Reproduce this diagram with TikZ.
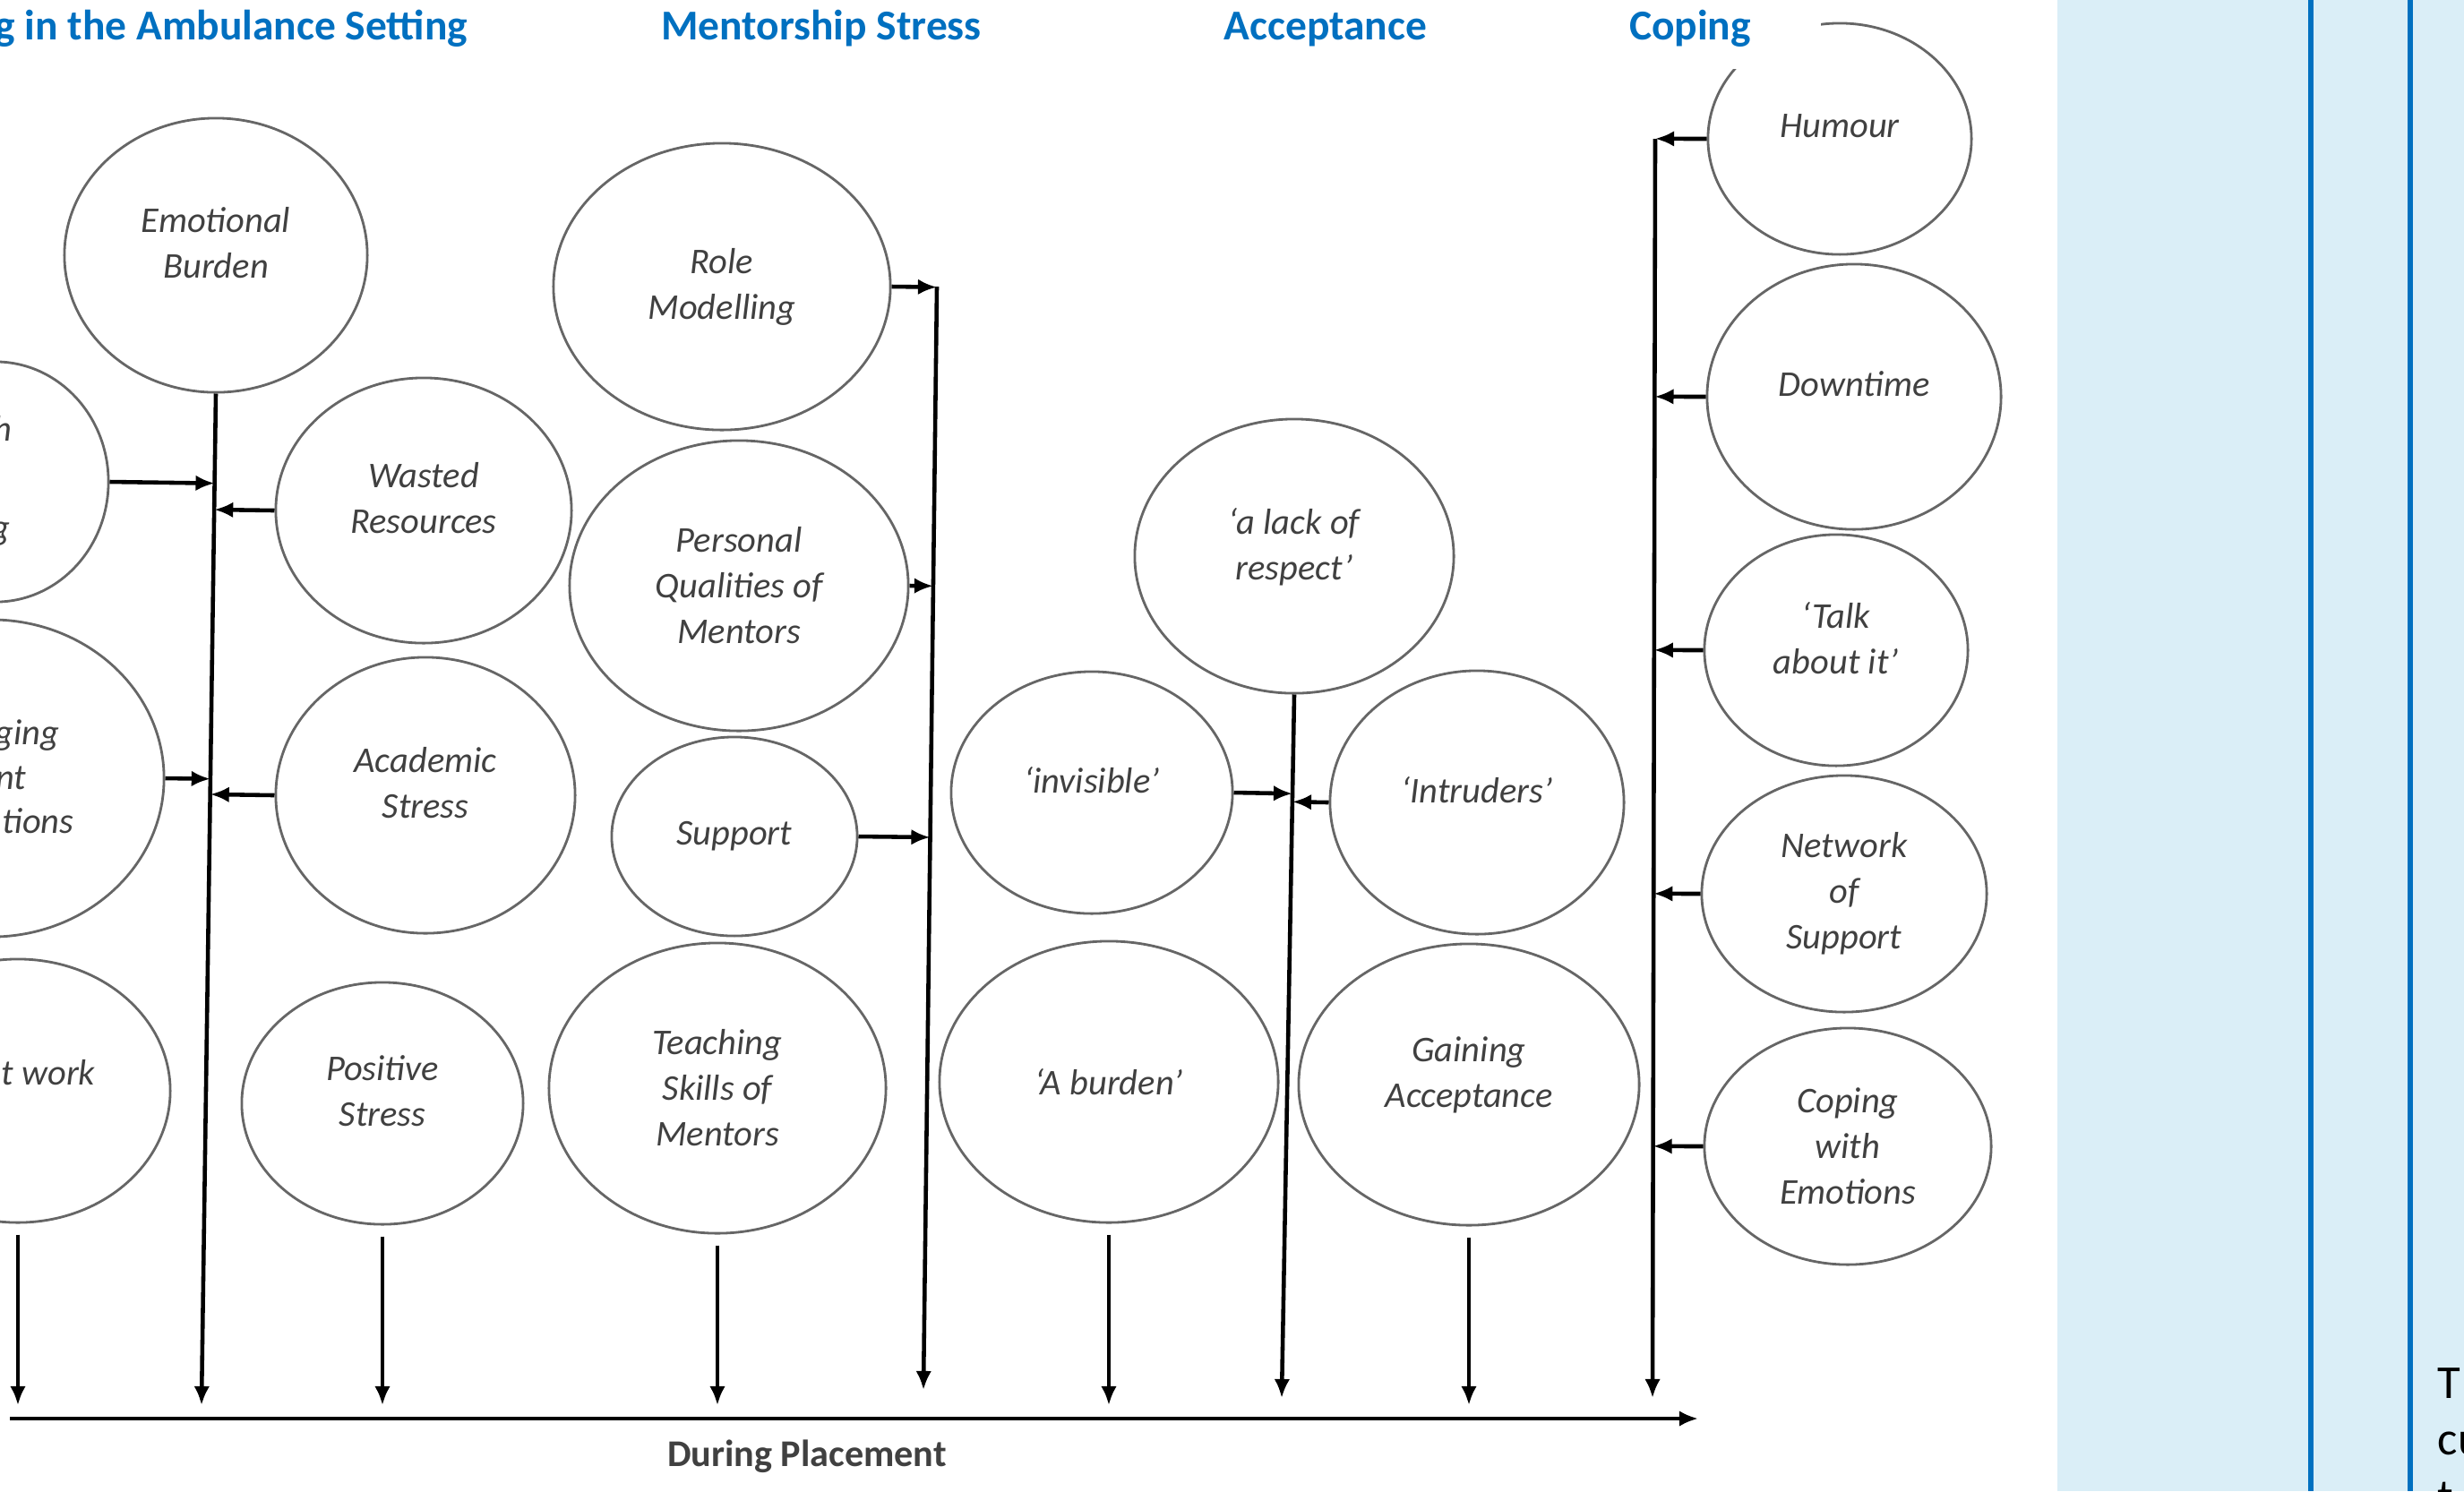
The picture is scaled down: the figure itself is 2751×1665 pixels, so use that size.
\documentclass[tikz,border=0pt]{standalone}
\usepackage{fontspec}
\setmainfont{Carlito}
\usepackage{tikz}
\usetikzlibrary{arrows.meta}
\usetikzlibrary{shapes.geometric,calc}

\definecolor{titleblue}{HTML}{0070C0}
\definecolor{panelblue}{HTML}{DAEEF7}

\tikzset{
  theme/.style={ellipse, draw=black!60, line width=0.8pt, inner sep=0pt, align=center,
    font=\fontsize{11.5}{14.5}\selectfont\itshape, text=black!75},
  lifted/.style={text depth=8pt},
  frag/.style={font=\fontsize{11.5}{14.5}\selectfont\itshape, text=black!75, inner sep=0pt, anchor=mid east},
  heading/.style={font=\fontsize{13.5}{16}\selectfont\bfseries, text=titleblue, anchor=base, fill=white, inner sep=2pt},
  arr/.style={-{Latex[length=6pt,width=5pt]}, line width=1.3pt},
  down/.style={arr, shorten <=1.2mm, shorten >=1.5mm},
}

\begin{document}
\begin{tikzpicture}[x=0.01cm, y=-0.01cm]
  \useasboundingbox (0,0) rectangle (2751,1665);
  \clip (0,0) rectangle (2751,1665);

  % side panel
  \fill[panelblue] (2297,0) rectangle (2751,1665);
  \draw[titleblue, line width=1.7pt] (2580,0) -- (2580,1665);
  \draw[titleblue, line width=1.7pt] (2691,0) -- (2691,1665);
  \node[anchor=north west, inner sep=0pt, align=left, font=\fontsize{15}{18}\selectfont] (note) at (2721,1527) {T\\cu\\t};

  % themes
  \node[theme, minimum width=2.52cm, minimum height=2.68cm] (lhs1) at (-5,538) {};
  \node[theme, minimum width=3.86cm, minimum height=3.54cm] (lhs2) at (-10,869) {};
  \node[theme, minimum width=3.40cm, minimum height=2.94cm] (lhs3) at (20,1218) {};
  \node[frag] (lhs1a) at (14,484) {h};
  \node[frag] (lhs1b) at (12,594) {g};
  \node[frag] (lhs2a) at (67,823) {ging};
  \node[frag] (lhs2b) at (30,873) {nt};
  \node[frag] (lhs2c) at (83,922) {tions};
  \node[frag] (lhs3a) at (107,1203) {t work};

  \node[theme, lifted, minimum width=3.38cm, minimum height=3.06cm] (emo) at (241,285) {Emotional\\Burden};
  \node[theme, lifted, minimum width=3.30cm, minimum height=2.96cm] (wasted) at (473,570) {Wasted\\Resources};
  \node[theme, lifted, minimum width=3.34cm, minimum height=3.08cm] (academic) at (475,888) {Academic\\Stress};
  \node[theme, lifted, minimum width=3.14cm, minimum height=2.70cm] (positive) at (427,1232) {Positive\\Stress};

  \node[theme, minimum width=3.76cm, minimum height=3.20cm] (role) at (806,320) {Role\\Modelling};
  \node[theme, minimum width=3.78cm, minimum height=3.24cm] (qualities) at (825,654) {Personal\\Qualities of\\Mentors};
  \node[theme, minimum width=2.74cm, minimum height=2.22cm] (support) at (820,934) {Support};
  \node[theme, minimum width=3.76cm, minimum height=3.24cm] (teaching) at (801,1215) {Teaching\\Skills of\\Mentors};

  \node[theme, lifted, minimum width=3.14cm, minimum height=2.70cm] (invisible) at (1219,885) {‘invisible’};
  \node[theme, minimum width=3.78cm, minimum height=3.14cm] (burden) at (1238,1208) {‘A burden’};
  \node[theme, lifted, minimum width=3.56cm, minimum height=3.06cm] (respect) at (1445,621) {‘a lack of\\respect’};
  \node[theme, lifted, minimum width=3.28cm, minimum height=2.94cm] (intruders) at (1649,896) {‘Intruders’};
  \node[theme, lifted, minimum width=3.80cm, minimum height=3.14cm] (gaining) at (1640,1211) {Gaining\\Acceptance};

  \node[theme, lifted, minimum width=2.94cm, minimum height=2.58cm] (humour) at (2054,155) {Humour};
  \node[theme, lifted, minimum width=3.28cm, minimum height=2.96cm] (downtime) at (2070,443) {Downtime};
  \node[theme, lifted, minimum width=2.94cm, minimum height=2.58cm] (talk) at (2050,726) {‘Talk\\about it’};
  \node[theme, minimum width=3.18cm, minimum height=2.64cm] (network) at (2059,998) {Network\\of\\Support};
  \node[theme, minimum width=3.20cm, minimum height=2.64cm] (copingemo) at (2063,1280) {Coping\\with\\Emotions};

  % headings
  \node[heading, anchor=base east] (hamb) at (530,44) {g in the Ambulance Setting};
  \node[heading] (hment) at (917,44) {Mentorship Stress};
  \node[heading] (hacc) at (1480,44) {Acceptance};
  \node[heading, minimum width=2.92cm, minimum height=0.92cm] (hcop) at (1887,44) {Coping};

  % trunks
  \coordinate (amb1) at (emo.south);
  \coordinate (amb2) at (225,1569);
  \draw[arr] (amb1) -- (amb2);
  \draw[arr] (lhs1.east) -- ($(amb1)!(lhs1.east)!(amb2)$);
  \draw[arr] (lhs2.east) -- ($(amb1)!(lhs2.east)!(amb2)$);
  \draw[arr] (wasted.west) -- ($(amb1)!(wasted.west)!(amb2)$);
  \draw[arr] (academic.west) -- ($(amb1)!(academic.west)!(amb2)$);

  \coordinate (ment1) at (1046,320);
  \coordinate (ment2) at (1031,1552);
  \draw[arr] (ment1) -- (ment2);
  \foreach \n in {role,qualities,support}
    \draw[arr] (\n.east) -- ($(ment1)!(\n.east)!(ment2)$);

  \coordinate (acc1) at (respect.south);
  \coordinate (acc2) at (1431,1561);
  \draw[arr] (acc1) -- (acc2);
  \draw[arr] (invisible.east) -- ($(acc1)!(invisible.east)!(acc2)$);
  \draw[arr] (intruders.west) -- ($(acc1)!(intruders.west)!(acc2)$);

  \coordinate (cop1) at (1848,155);
  \coordinate (cop2) at (1845,1561);
  \draw[arr] (cop1) -- (cop2);
  \foreach \n in {humour,downtime,talk,network,copingemo}
    \draw[arr] (\n.west) -- ($(cop1)!(\n.west)!(cop2)$);

  % time axis
  \coordinate (ax1) at (11,1584);
  \coordinate (ax2) at (1896,1584);
  \draw[arr] (ax1) -- (ax2);
  \foreach \n in {lhs3,positive,teaching,burden,gaining}
    \draw[down] (\n.south) -- (\n.south |- ax1);
  \node[font=\fontsize{12}{14}\selectfont\bfseries, text=black!75] (during) at (901,1626) {During Placement};
\end{tikzpicture}
\end{document}
